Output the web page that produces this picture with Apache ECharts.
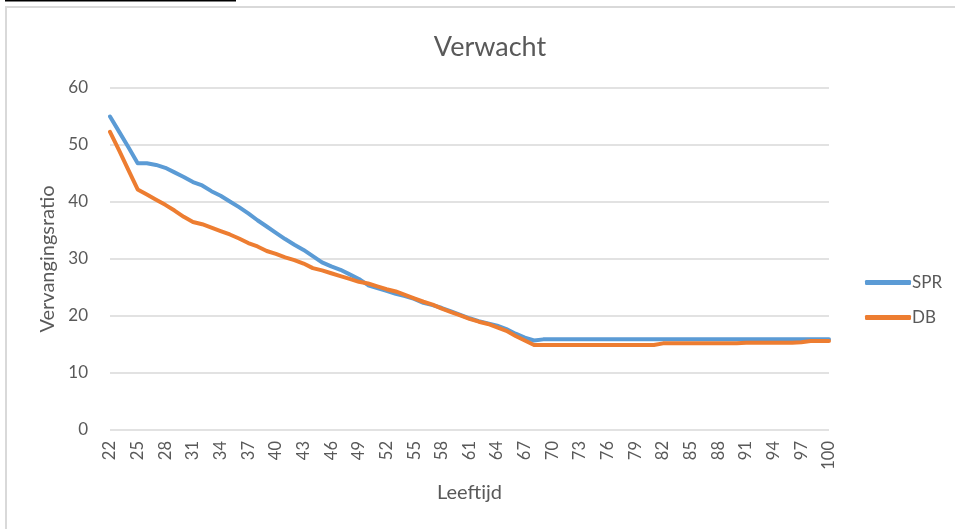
<!DOCTYPE html>
<html>
<head>
<meta charset="utf-8">
<script src="https://cdn.jsdelivr.net/npm/echarts@6/dist/echarts.min.js"></script>
<style>
  html, body { margin: 0; padding: 0; background: #fff; }
  #main { width: 955px; height: 529px; }
</style>
</head>
<body>
<div id="main"></div>
<script>
// leeftijden 22 t/m 100
var ages = [];
for (var a = 22; a <= 100; a++) ages.push(String(a));

var spr = [
  55.0, 52.3, 49.6, 46.8, 46.8, 46.5, 46.0, 45.2, 44.4, 43.5,
  42.9, 41.9, 41.1, 40.1, 39.1, 38.0, 36.8, 35.7, 34.6, 33.5,
  32.5, 31.6, 30.5, 29.4, 28.7, 28.1, 27.3, 26.5, 25.4, 24.9,
  24.4, 23.9, 23.5, 23.0, 22.3, 21.9, 21.4, 20.8, 20.2, 19.6,
  19.1, 18.7, 18.3, 17.7, 16.9, 16.2, 15.7, 15.9, 15.9, 15.9,
  15.9, 15.9, 15.9, 15.9, 15.9, 15.9, 15.9, 15.9, 15.9, 15.9,
  15.9, 15.9, 15.9, 15.9, 15.9, 15.9, 15.9, 15.9, 15.9, 15.9,
  15.9, 15.9, 15.9, 15.9, 15.9, 15.9, 15.9, 15.9, 15.9
];

var db = [
  52.3, 49.0, 45.6, 42.2, 41.3, 40.4, 39.5, 38.5, 37.4, 36.5,
  36.1, 35.5, 34.9, 34.3, 33.6, 32.8, 32.2, 31.4, 30.9, 30.3,
  29.8, 29.2, 28.4, 28.0, 27.5, 27.0, 26.5, 26.0, 25.7, 25.2,
  24.7, 24.3, 23.7, 23.1, 22.5, 22.0, 21.3, 20.7, 20.1, 19.5,
  19.0, 18.6, 18.0, 17.4, 16.5, 15.7, 14.9, 14.9, 14.9, 14.9,
  14.9, 14.9, 14.9, 14.9, 14.9, 14.9, 14.9, 14.9, 14.9, 14.9,
  15.2, 15.2, 15.2, 15.2, 15.2, 15.2, 15.2, 15.2, 15.2, 15.3,
  15.3, 15.3, 15.3, 15.3, 15.3, 15.4, 15.6, 15.6, 15.6
];

var yTicks = [0, 10, 20, 30, 40, 50, 60];

var font = 'Lato, "Open Sans", sans-serif';
var grey = '#595959';

var myChart = echarts.init(document.getElementById('main'), null, { renderer: 'canvas' });

var option = {
  animation: false,
  backgroundColor: '#fff',
  textStyle: { fontFamily: font },
  title: {
    text: 'Verwacht',
    left: 485,
    textAlign: 'center',
    top: 29,
    textStyle: { fontSize: 27, fontWeight: 'normal', color: grey, fontFamily: font }
  },
  graphic: [
    { type: 'rect', shape: { x: 6, y: 7, width: 960, height: 540 },
      style: { fill: 'none', stroke: '#d9d9d9', lineWidth: 2 }, silent: true },
    { type: 'rect', shape: { x: 5, y: 0, width: 231, height: 1.5 },
      style: { fill: '#000' }, silent: true }
  ],
  legend: {
    orient: 'vertical',
    left: 860,
    top: 269,
    itemWidth: 46,
    itemHeight: 5,
    itemGap: 18,
    icon: 'roundRect',
    textStyle: { fontSize: 17, color: grey, fontFamily: font, padding: [0, 0, 0, -4] },
    data: ['SPR', 'DB']
  },
  grid: { left: 110, right: 126, top: 88, bottom: 99 },
  xAxis: {
    type: 'category',
    data: ages,
    boundaryGap: false,
    name: 'Leeftijd',
    nameLocation: 'middle',
    nameGap: 53,
    nameTextStyle: { fontSize: 20, color: grey, fontFamily: font },
    axisLine: { show: false },
    axisTick: { show: false },
    axisLabel: {
      interval: 2,
      rotate: 90,
      margin: 11,
      fontSize: 16.5,
      color: grey,
      fontFamily: font
    },
    splitLine: { show: false }
  },
  yAxis: {
    type: 'value',
    min: yTicks[0],
    max: yTicks[yTicks.length - 1],
    interval: 10,
    name: 'Vervangingsratio',
    nameLocation: 'middle',
    nameGap: 52,
    nameRotate: 90,
    nameTextStyle: { fontSize: 20, color: grey, fontFamily: font },
    axisLine: { show: false },
    axisTick: { show: false },
    axisLabel: { fontSize: 17, color: grey, margin: 22, fontFamily: font },
    splitLine: { lineStyle: { color: '#d9d9d9', width: 1.5 } }
  },
  series: [
    {
      name: 'SPR',
      type: 'line',
      data: spr,
      symbol: 'none',
      lineStyle: { width: 4, color: '#5B9BD5', cap: 'round', join: 'round' },
      itemStyle: { color: '#5B9BD5' }
    },
    {
      name: 'DB',
      type: 'line',
      data: db,
      symbol: 'none',
      lineStyle: { width: 4, color: '#ED7D31', cap: 'round', join: 'round' },
      itemStyle: { color: '#ED7D31' }
    }
  ]
};

option && myChart.setOption(option);
</script>
</body>
</html>
